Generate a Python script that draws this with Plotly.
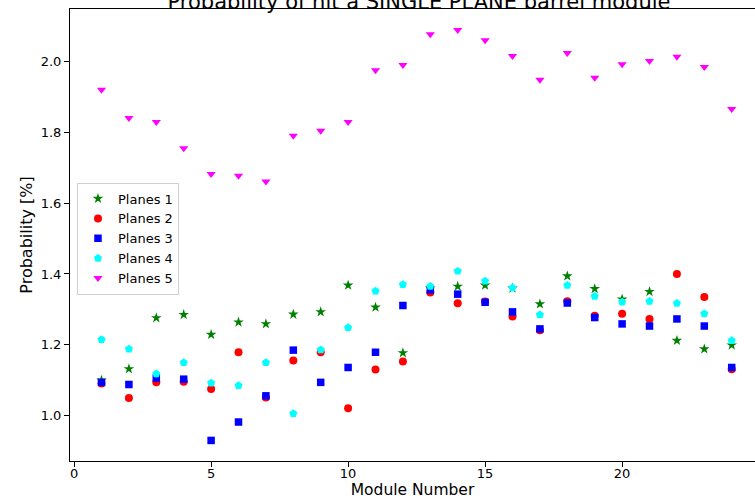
import plotly.graph_objects as go

# Module numbers along the barrel
modules = list(range(1, 25))

# Hit probability [%] per module for each number of planes
planes_1 = [1.100, 1.132, 1.276, 1.285, 1.229, 1.264, 1.259, 1.286, 1.293, 1.368, 1.306, 1.177,
            1.360, 1.365, 1.368, 1.360, 1.315, 1.394, 1.358, 1.329, 1.350, 1.212, 1.188, 1.199]
planes_2 = [1.091, 1.050, 1.094, 1.096, 1.075, 1.179, 1.051, 1.156, 1.179, 1.021, 1.130, 1.153,
            1.348, 1.317, 1.322, 1.280, 1.241, 1.323, 1.282, 1.288, 1.273, 1.400, 1.335, 1.131]
planes_3 = [1.094, 1.088, 1.106, 1.103, 0.930, 0.982, 1.056, 1.185, 1.094, 1.136, 1.179, 1.311,
            1.355, 1.343, 1.320, 1.293, 1.245, 1.318, 1.277, 1.259, 1.253, 1.273, 1.253, 1.136]
planes_4 = [1.215, 1.188, 1.118, 1.150, 1.092, 1.085, 1.150, 1.006, 1.186, 1.249, 1.352, 1.370,
            1.365, 1.408, 1.380, 1.361, 1.285, 1.368, 1.337, 1.321, 1.323, 1.317, 1.288, 1.212]
planes_5 = [1.920, 1.840, 1.829, 1.755, 1.682, 1.677, 1.661, 1.790, 1.804, 1.829, 1.975, 1.990,
            2.077, 2.089, 2.060, 2.015, 1.948, 2.024, 1.954, 1.992, 2.001, 2.013, 1.984, 1.866]

series = [
    ("Planes 1", planes_1, "#008000", "star", 8),
    ("Planes 2", planes_2, "#ff0000", "circle", 8),
    ("Planes 3", planes_3, "#0000ff", "square", 7.5),
    ("Planes 4", planes_4, "#00ffff", "pentagon", 8.5),
    ("Planes 5", planes_5, "#ff00ff", "triangle-down", 8),
]

FONT = "DejaVu Sans"

fig = go.Figure()
for name, values, color, symbol, size in series:
    fig.add_trace(go.Scatter(
        x=modules, y=values, mode="markers", name=name,
        marker=dict(color=color, symbol=symbol, size=size, line=dict(width=0)),
    ))

axis_common = dict(
    showgrid=False, zeroline=False, showline=True, linecolor="#000000", linewidth=1,
    ticks="outside", ticklen=5, tickwidth=1, tickcolor="#000000",
    tickfont=dict(family=FONT, size=13, color="#000000"),
)

fig.update_layout(
    width=755, height=499,
    margin=dict(l=70, r=0, t=9, b=38),
    paper_bgcolor="white", plot_bgcolor="white",
    font=dict(family=FONT, color="#000000"),
    title=dict(
        text="Probability of hit a SINGLE PLANE barrel module",
        font=dict(family=FONT, size=21, color="#000000"),
        xref="container", x=419 / 755, xanchor="center",
        yref="paper", y=1, yanchor="bottom", pad=dict(b=0, t=0),
    ),
    xaxis=dict(
        **axis_common, range=[-0.15, 24.85], tickvals=[0, 5, 10, 15, 20], mirror=True,
        ticklabelstandoff=-5,
        title=dict(text="Module Number", font=dict(family=FONT, size=15.5, color="#000000"), standoff=6),
    ),
    yaxis=dict(
        **axis_common, range=[0.872, 2.148], tickvals=[1.0, 1.2, 1.4, 1.6, 1.8, 2.0],
        tickformat=".1f",
        title=dict(text="Probability [%]", font=dict(family=FONT, size=16, color="#000000"), standoff=4),
    ),
    legend=dict(
        x=0.0102, y=0.616, xanchor="left", yanchor="top",
        bgcolor="rgba(255,255,255,0.8)", bordercolor="#d0d0d0", borderwidth=1,
        font=dict(family=FONT, size=13, color="#000000"),
        tracegroupgap=0, itemsizing="trace",
    ),
    showlegend=True,
)

fig.write_html("out.html")
